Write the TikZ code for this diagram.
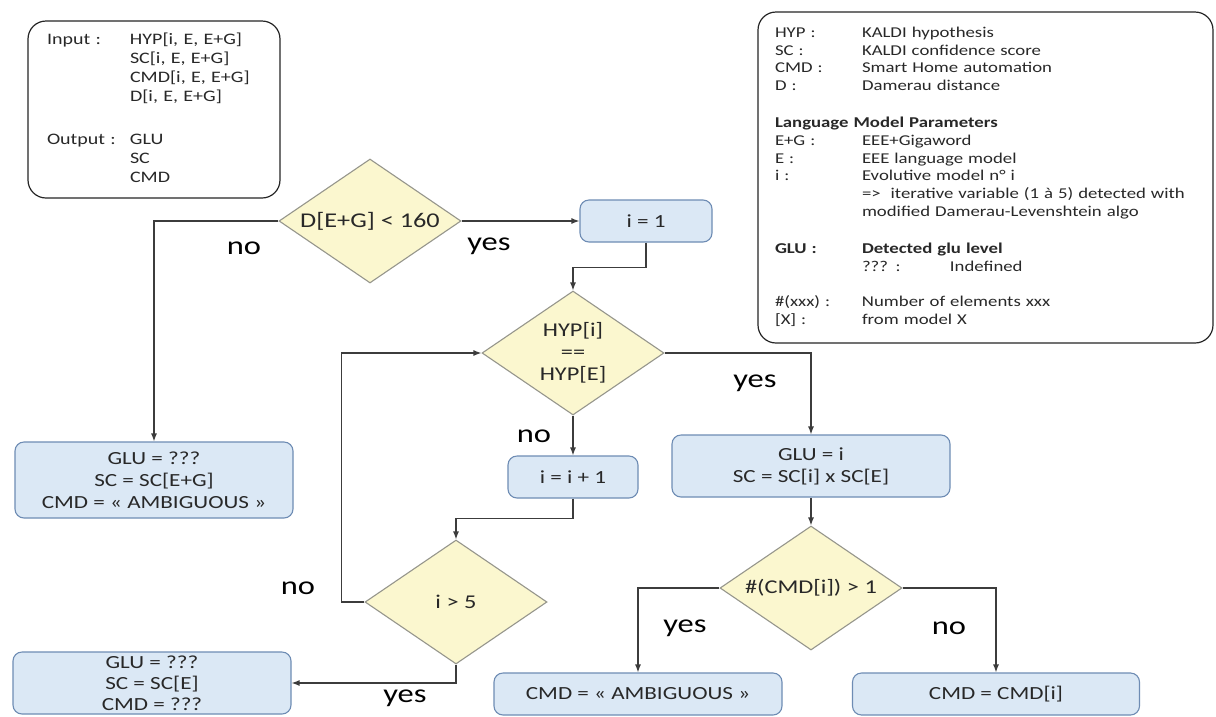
\documentclass[tikz,border=0pt]{standalone}
\usepackage{fontspec}
\setmainfont{Carlito}[FakeStretch=1.25]
\usetikzlibrary{shapes.geometric,arrows.meta}
\definecolor{boxfill}{RGB}{219,232,245}
\definecolor{boxline}{RGB}{110,140,180}
\definecolor{diafill}{RGB}{251,247,207}
\definecolor{dialine}{RGB}{150,150,140}
\definecolor{lineclr}{RGB}{60,60,60}
\definecolor{txt}{RGB}{40,40,40}
\tikzset{
  box/.style={draw=boxline, fill=boxfill, rounded corners=9pt, line width=1.1pt, align=center, inner sep=0pt, font=\fontsize{18.5}{22}\selectfont, text=txt},
  dia/.style={diamond, aspect=1.47, draw=dialine, fill=diafill, line width=1.1pt, minimum width=182pt, minimum height=124pt, inner sep=0pt, align=center, font=\fontsize{19.5}{22}\selectfont, text=txt},
  conn/.style={draw=lineclr, line width=1.3pt, -{Latex[length=8pt,width=6pt]}},
  lbl/.style={font=\fontsize{26}{30}\selectfont, inner sep=0pt, text=black},
  infobox/.style={draw=black!85, rounded corners=18pt, line width=1.2pt, inner sep=0pt, align=left, text=txt}
}
\begin{document}
\begin{tikzpicture}[x=1pt,y=-1pt]
\useasboundingbox (0,0) rectangle (1216,716);
\fill[white] (0,0) rectangle (1216,716);

% information boxes
\node[infobox, minimum width=252pt, minimum height=177pt, text width=214pt,
      font=\fontsize{16}{19}\selectfont] (inbox) at (154,109.5) {%
\begin{tabular}{@{}p{83pt}@{}l@{}}
Input : & HYP[i, E, E+G]\\
 & SC[i, E, E+G]\\
 & CMD[i, E, E+G]\\
 & D[i, E, E+G]\\[24pt]
Output : & GLU\\
 & SC\\
 & CMD
\end{tabular}};

\node[infobox, minimum width=455pt, minimum height=331pt, text width=421pt,
      font=\fontsize{15}{17.8}\selectfont] (legend) at (985.5,177.5) {%
\begin{tabular}{@{}p{87pt}@{}l@{}}
HYP : & KALDI hypothesis\\
SC : & KALDI confidence score\\
CMD : & Smart Home automation\\
D : & Damerau distance\\[19pt]
\multicolumn{2}{@{}l@{}}{\bfseries Language Model Parameters}\\
E+G : & EEE+Gigaword\\
E : & EEE language model\\
i : & Evolutive model n° i\\
 & =>\ \ iterative variable (1 à 5) detected with\\
 & modified Damerau-Levenshtein algo\\[19pt]
\bfseries GLU : & \bfseries Detected glu level\\
 & \makebox[88pt][l]{??? :}Indefined\\[18pt]
\#(xxx) : & Number of elements xxx\\
{[X] :} & from model X
\end{tabular}};

% decisions
\node[dia, font=\fontsize{21}{24}\selectfont] (d1) at (370,221) {D[E+G] < 160};
\node[dia] (d2) at (573,353) {HYP[i]\\==\\HYP[E]};
\node[dia] (d3) at (811,588) {\#(CMD[i]) > 1};
\node[dia] (d4) at (456,602) {i > 5};

% process boxes
\node[box, minimum width=132pt, minimum height=42pt] (i1) at (646,221) {i = 1};
\node[box, minimum width=130pt, minimum height=42pt] (inc) at (573,477) {i = i + 1};
\node[box, minimum width=278pt, minimum height=62pt] (glui) at (811,466) {GLU = i\\SC = SC[i] x SC[E]};
\node[box, minimum width=278pt, minimum height=76pt] (amb1) at (154,480) {GLU = ???\\SC = SC[E+G]\\CMD = « AMBIGUOUS »};
\node[box, minimum width=278pt, minimum height=62pt, font=\fontsize{18.5}{21}\selectfont] (amb2) at (152,683) {GLU = ???\\SC = SC[E]\\CMD = ???};
\node[box, minimum width=288pt, minimum height=42pt] (cmdamb) at (638,694) {CMD = « AMBIGUOUS »};
\node[box, minimum width=287pt, minimum height=42pt] (cmdi) at (996,694) {CMD = CMD[i]};

% connectors
\draw[conn] (d1.west) -| (amb1.north);
\draw[conn] (d1.east) -- (i1.west);
\draw[conn] (i1.south) -- ++(0,25) -| (d2.north);
\draw[conn] (d2.south) -- (inc.north);
\draw[conn] (inc.south) -- ++(0,20) -| (d4.north);
\draw[conn] (d4.west) -- ++(-23,0) |- (d2.west);
\draw[conn] (d4.south) |- (amb2.east);
\draw[conn] (d2.east) -| (glui.north);
\draw[conn] (glui.south) -- (d3.north);
\draw[conn] (d3.west) -| (cmdamb.north);
\draw[conn] (d3.east) -| (cmdi.north);

% labels
\node[lbl] (l1) at (244,248) {no};
\node[lbl] (l2) at (489,246) {yes};
\node[lbl] (l3) at (534,436) {no};
\node[lbl] (l4) at (755,383) {yes};
\node[lbl] (l5) at (298,588) {no};
\node[lbl] (l6) at (405,698) {yes};
\node[lbl] (l7) at (685,628) {yes};
\node[lbl] (l8) at (949,628) {no};
\end{tikzpicture}
\end{document}
